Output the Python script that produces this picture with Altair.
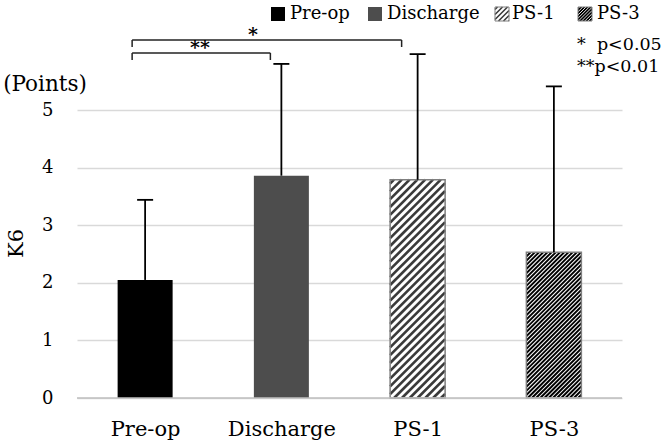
import json

import altair as alt
import pandas as pd

# ---- data -------------------------------------------------------------
categories = ["Pre-op", "Discharge", "PS-1", "PS-3"]
means = [2.05, 3.86, 3.79, 2.53]
sds = [1.39, 1.94, 2.18, 2.88]
y_ticks = [0, 1, 2, 3, 4, 5]
fills = ["#000000", "#4d4d4d", "#ffffff", "#000000"]

# ---- layout -----------------------------------------------------------
PLOT_W, PLOT_H = 545, 398
PX_Y = 57.6                      # pixels per K6 point
PX_X = PLOT_W / len(categories)  # pixels per category slot
Y_MAX = PLOT_H / PX_Y
FONT = "DejaVu Serif"

BAR_HALF = 27.5 / PX_X
CAP_HALF = 8.0 / PX_X


def px_x(dx):
    return dx / PX_X


def px_y(dy):
    return dy / PX_Y


def hatch(x0, x1, y0, y1, period):
    """Diagonal '/' strokes filling a rectangle given in data units."""
    xa, xb = x0 * PX_X, x1 * PX_X
    ha, hb = y0 * PX_Y, y1 * PX_Y
    rows = []
    c = xa - hb + period / 2
    while c < xb - ha:
        lo = max(ha, xa - c)
        hi = min(hb, xb - c)
        if hi > lo:
            rows.append({"x": (lo + c) / PX_X, "y": lo / PX_Y,
                         "x2": (hi + c) / PX_X, "y2": hi / PX_Y})
        c += period
    return rows


centers = [i + 0.5 for i in range(len(categories))]

bars = pd.DataFrame({
    "cat": categories,
    "x": [c - BAR_HALF for c in centers],
    "x2": [c + BAR_HALF for c in centers],
    "y": [0.0] * len(categories),
    "y2": means,
    "fill": fills,
})

errs = pd.DataFrame({
    "x": centers,
    "y": means,
    "y2": [m + s for m, s in zip(means, sds)],
})
caps = pd.DataFrame({
    "x": [c - CAP_HALF for c in centers],
    "x2": [c + CAP_HALF for c in centers],
    "y": [m + s for m, s in zip(means, sds)],
})

# hatch strokes for PS-1 (light) and PS-3 (dense)
h1 = pd.DataFrame(hatch(bars.x[2], bars.x2[2], 0, means[2], 7.8))
h3 = pd.DataFrame(hatch(bars.x[3], bars.x2[3], 0, means[3], 4.2))

# ---- scales / axes ----------------------------------------------------
xs = alt.Scale(domain=[0, len(categories)], nice=False, zero=False)
ys = alt.Scale(domain=[0, Y_MAX], nice=False, zero=False)

label_expr = json.dumps(categories) + "[floor(datum.value)]"
x_axis = alt.Axis(values=centers, labelExpr=label_expr, title=None, grid=False,
                  domain=False, ticks=False, labelFont=FONT, labelFontSize=21,
                  labelColor="black", labelPadding=20, labelAngle=0)
y_axis = alt.Axis(values=y_ticks, title="K6", grid=True, gridColor="#d9d9d9",
                  gridWidth=1.5, domain=False, ticks=False, labelFont=FONT,
                  labelFontSize=18, labelColor="black", labelPadding=24,
                  titleFont=FONT, titleFontSize=21, titleFontWeight="normal",
                  titleColor="black", titleAngle=-90, titleX=-61, titleY=243,
                  titleAlign="center", titleBaseline="middle")

X = alt.X("x:Q", scale=xs, axis=x_axis)
Y = alt.Y("y:Q", scale=ys, axis=y_axis)


def base(df):
    return alt.Chart(df)


baseline = base(pd.DataFrame({"x": [0], "x2": [len(categories)], "y": [0]})).mark_rule(
    color="#bfbfbf", strokeWidth=1.5).encode(x=X, x2="x2:Q", y=Y)

bar_fill = base(bars).mark_rect().encode(
    x=X, x2="x2:Q", y=Y, y2="y2:Q",
    fill=alt.Fill("fill:N", scale=None))

hatch1 = base(h1).mark_rule(color="#3a3a3a", strokeWidth=2.6).encode(
    x=X, x2="x2:Q", y=Y, y2="y2:Q")
hatch3 = base(h3).mark_rule(color="#ffffff", strokeWidth=1.05).encode(
    x=X, x2="x2:Q", y=Y, y2="y2:Q")

outline = base(bars.iloc[2:]).mark_rect(fill=None, stroke="#7f7f7f", strokeWidth=1.5).encode(
    x=X, x2="x2:Q", y=Y, y2="y2:Q")

err_lines = base(errs).mark_rule(color="black", strokeWidth=1.8).encode(
    x=X, y=Y, y2="y2:Q")
err_caps = base(caps).mark_rule(color="black", strokeWidth=1.8).encode(
    x=X, x2="x2:Q", y=Y)

# ---- significance brackets -------------------------------------------
def bracket(xl, xr, ytop, drop):
    return [
        {"x": xl, "x2": xr, "y": ytop, "y2": ytop},
        {"x": xl, "x2": xl, "y": ytop, "y2": ytop - drop},
        {"x": xr, "x2": xr, "y": ytop, "y2": ytop - drop},
    ]


br_drop = px_y(7)
br_rows = (bracket(centers[0] - px_x(13), centers[2] - px_x(16), px_y(PLOT_H - 40), br_drop)
           + bracket(centers[0] - px_x(13), centers[1] - px_x(11), px_y(PLOT_H - 53), br_drop))
brackets = base(pd.DataFrame(br_rows)).mark_rule(color="#222222", strokeWidth=1.5).encode(
    x=X, x2="x2:Q", y=Y, y2="y2:Q")

stars = base(pd.DataFrame({
    "x": [px_x(253 - 77), px_x(200 - 77)],
    "y": [px_y(PLOT_H - 35), px_y(PLOT_H - 48)],
    "t": ["*", "**"],
})).mark_text(font=FONT, fontSize=19, fontWeight="bold", color="black",
              baseline="middle", align="center").encode(x=X, y=Y, text="t:N")

# ---- notes ------------------------------------------------------------
notes_left = base(pd.DataFrame({
    "x": [px_x(577 - 77)] * 2,
    "y": [px_y(PLOT_H - 45), px_y(PLOT_H - 67)],
    "t": ["*\u00a0\u00a0p<0.05", "**p<0.01"],
})).mark_text(font=FONT, fontSize=17.5, color="black", baseline="middle",
              align="left").encode(x=X, y=Y, text="t:N")

points_lbl = base(pd.DataFrame({
    "x": [px_x(45 - 77)], "y": [px_y(PLOT_H - 85)], "t": ["(Points)"],
})).mark_text(font=FONT, fontSize=21.5, color="black", baseline="middle",
              align="center").encode(x=X, y=Y, text="t:N")

# ---- legend -----------------------------------------------------------
leg_sq_left = [271, 368, 495, 578]
leg_txt_left = [290, 387, 512, 597]
LEG_TOP, LEG_SIZE = 7, 14

leg_sq = pd.DataFrame({
    "x": [px_x(v - 77) for v in leg_sq_left],
    "x2": [px_x(v - 77 + LEG_SIZE) for v in leg_sq_left],
    "y": [px_y(PLOT_H - LEG_TOP - LEG_SIZE)] * 4,
    "y2": [px_y(PLOT_H - LEG_TOP)] * 4,
    "fill": fills,
})
leg_fill = base(leg_sq).mark_rect().encode(
    x=X, x2="x2:Q", y=Y, y2="y2:Q", fill=alt.Fill("fill:N", scale=None))
lh1 = pd.DataFrame(hatch(leg_sq.x[2], leg_sq.x2[2], leg_sq.y[2], leg_sq.y2[2], 5.0))
lh3 = pd.DataFrame(hatch(leg_sq.x[3], leg_sq.x2[3], leg_sq.y[3], leg_sq.y2[3], 3.2))
leg_h1 = base(lh1).mark_rule(color="#3a3a3a", strokeWidth=1.6).encode(
    x=X, x2="x2:Q", y=Y, y2="y2:Q")
leg_h3 = base(lh3).mark_rule(color="#ffffff", strokeWidth=0.9).encode(
    x=X, x2="x2:Q", y=Y, y2="y2:Q")
leg_outline = base(leg_sq.iloc[2:]).mark_rect(fill=None, stroke="#7f7f7f", strokeWidth=1).encode(
    x=X, x2="x2:Q", y=Y, y2="y2:Q")
leg_txt = base(pd.DataFrame({
    "x": [px_x(v - 77) for v in leg_txt_left],
    "y": [px_y(PLOT_H - LEG_TOP - LEG_SIZE / 2)] * 4,
    "t": categories,
})).mark_text(font=FONT, fontSize=18, color="black", baseline="middle",
              align="left").encode(x=X, y=Y, text="t:N")

chart = alt.layer(
    bar_fill, hatch1, hatch3, outline, baseline, err_lines, err_caps,
    brackets, stars, notes_left, points_lbl,
    leg_fill, leg_h1, leg_h3, leg_outline, leg_txt,
).properties(
    width=PLOT_W, height=PLOT_H,
    padding={"left": 77, "top": 0, "right": 43, "bottom": 48},
    autosize=alt.AutoSizeParams(type="none"),
    background="white",
).configure_view(stroke=None)

chart.save("out.html", embed_options={"renderer": "svg", "actions": False})
